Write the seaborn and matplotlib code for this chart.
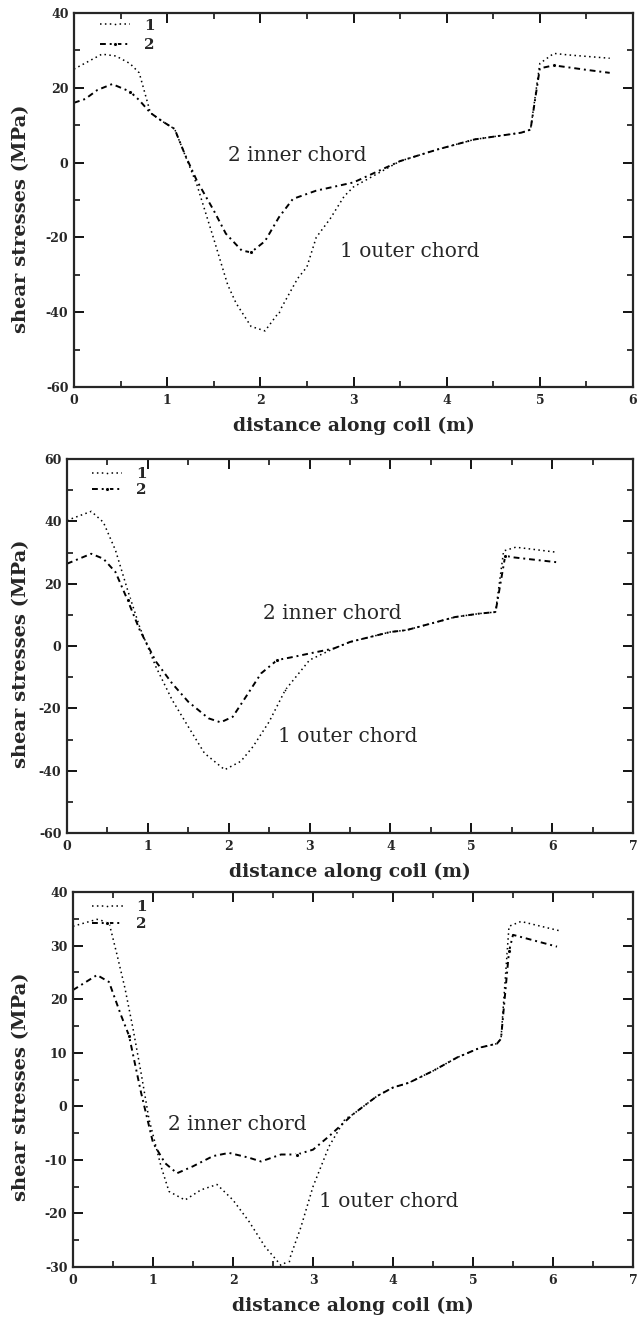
import numpy as np
import pandas as pd
import matplotlib
matplotlib.use("Agg")
import matplotlib.pyplot as plt
from matplotlib.ticker import MultipleLocator
import seaborn as sns

# ---------------- data ----------------
# Panel 1
p1_outer_x = [0, 0.15, 0.3, 0.45, 0.6, 0.7, 0.82, 0.95, 1.08, 1.16, 1.32, 1.5, 1.58, 1.65, 1.74,
              1.9, 2.05, 2.2, 2.4, 2.5, 2.6, 2.75, 2.9, 3.0, 3.5, 3.9, 4.3, 4.8, 4.9, 5.0, 5.15,
              5.3, 5.5, 5.75]
p1_outer_y = [25, 27, 29, 28.5, 26.5, 24, 13.3, 11, 9, 4, -6, -20.4, -27, -32.7, -37.6,
              -43.8, -45, -40, -31, -27.9, -20, -15, -9, -6.5, 0.4, 3.5, 6.2, 8, 8.8, 26.5, 29.2,
              28.8, 28.4, 27.9]
p1_inner_x = [0, 0.12, 0.25, 0.41, 0.6, 0.7, 0.82, 0.95, 1.08, 1.19, 1.32, 1.5, 1.63, 1.8, 1.9,
              2.05, 2.2, 2.35, 2.6, 3.0, 3.5, 3.9, 4.3, 4.8, 4.9, 5.0, 5.15, 5.5, 5.75]
p1_inner_y = [16, 17, 19.4, 21, 19, 16.7, 13.3, 11, 9, 2.2, -4.9, -12.8, -19, -23.5, -24,
              -21, -14.6, -9.7, -7.5, -5.3, 0.4, 3.5, 6.2, 8, 8.8, 25.2, 26, 24.8, 24]

# Panel 2
p2_outer_x = [0, 0.3, 0.45, 0.6, 0.75, 0.9, 1.1, 1.3, 1.5, 1.7, 1.95, 2.15, 2.3, 2.5, 2.7, 2.9,
              3.0, 3.3, 3.5, 4.0, 4.2, 4.5, 4.8, 5.1, 5.3, 5.4, 5.55, 6.05]
p2_outer_y = [40.3, 43.2, 39.7, 30.7, 17.9, 6, -6.7, -17.3, -25.9, -34.4, -39.7, -37, -32.3,
              -24.3, -14.1, -7.7, -4.5, -0.8, 1.3, 4.5, 5.1, 7.2, 9.3, 10.4, 10.9, 30.5, 31.7, 30.1]
p2_inner_x = [0, 0.3, 0.45, 0.6, 0.75, 0.9, 1.1, 1.3, 1.5, 1.75, 1.9, 2.05, 2.2, 2.4, 2.6, 2.8,
              3.0, 3.3, 3.5, 4.0, 4.2, 4.5, 4.8, 5.1, 5.3, 5.42, 5.5, 6.05]
p2_inner_y = [26.4, 29.6, 28, 23.7, 14.7, 5.1, -5, -12, -17.9, -23.2, -24.5, -22.7, -16.8, -8.8,
              -4.5, -3.5, -2.4, -0.8, 1.3, 4.5, 5.1, 7.2, 9.3, 10.4, 10.9, 29, 28.5, 26.9]

# Panel 3
p3_outer_x = [0, 0.3, 0.45, 0.55, 0.65, 0.75, 0.85, 0.95, 1.1, 1.2, 1.4, 1.6, 1.8, 2.0, 2.2, 2.4,
              2.6, 2.7, 2.85, 3.0, 3.2, 3.4, 3.5, 3.8, 4.0, 4.2, 4.5, 4.8, 5.1, 5.3, 5.35, 5.45,
              5.6, 6.1]
p3_outer_y = [33.6, 34.9, 34.3, 28.3, 22, 14.5, 6.3, -2.4, -11.2, -15.9, -17.5, -15.6, -14.6,
              -17.5, -21.5, -26.2, -29.7, -28.8, -22.5, -15, -7.5, -2.4, -1.5, 1.9, 3.5, 4.4, 6.6,
              9.1, 11, 11.7, 12.6, 33.6, 34.5, 32.7]
p3_inner_x = [0, 0.3, 0.45, 0.6, 0.7, 0.85, 1.0, 1.15, 1.3, 1.5, 1.75, 1.95, 2.2, 2.35, 2.6, 2.8,
              3.0, 3.2, 3.5, 3.8, 4.0, 4.2, 4.5, 4.8, 5.1, 5.3, 5.35, 5.45, 5.5, 6.05]
p3_inner_y = [21.7, 24.5, 23.2, 17, 13.2, 2.6, -6.8, -10.6, -12.5, -11.2, -9.3, -8.7, -9.6, -10.3,
              -9, -9, -8.1, -5.6, -1.5, 1.9, 3.5, 4.4, 6.6, 9.1, 11, 11.7, 12.6, 28.9, 32, 29.8]

legend_labels = ["1", "2"]
x_label = "distance along coil (m)"
y_label = "shear stresses (MPa)"
inner_text = "2 inner chord"
outer_text = "1 outer chord"

# ---------------- style ----------------
sns.set_style("ticks")
plt.rcParams["font.family"] = ["DejaVu Serif"]
plt.rcParams["axes.linewidth"] = 1.6
plt.rcParams["axes.unicode_minus"] = False

fig = plt.figure(figsize=(6.43, 13.19), dpi=100)
W, H = 643.0, 1319.0

panels = [
    dict(box=(74, 13, 633, 387), xlim=(0, 6), ylim=(-60, 40), ymaj=20, ymin=10,
         outer=(p1_outer_x, p1_outer_y), inner=(p1_inner_x, p1_inner_y),
         inner_pos=(1.65, 1.8), outer_pos=(2.85, -23.9), leg=(0.046, 0.985), lspace=0.35,
         ylabel_y=0.45),
    dict(box=(67, 459, 633, 833), xlim=(0, 7), ylim=(-60, 60), ymaj=20, ymin=10,
         outer=(p2_outer_x, p2_outer_y), inner=(p2_inner_x, p2_inner_y),
         inner_pos=(2.43, 10.4), outer_pos=(2.61, -29), leg=(0.044, 0.978), lspace=0.12,
         ylabel_y=0.48),
    dict(box=(73, 892, 633, 1267), xlim=(0, 7), ylim=(-30, 40), ymaj=10, ymin=5,
         outer=(p3_outer_x, p3_outer_y), inner=(p3_inner_x, p3_inner_y),
         inner_pos=(1.19, -3.4), outer_pos=(3.07, -17.8), leg=(0.034, 0.978), lspace=0.2,
         ylabel_y=0.48),
]

for p in panels:
    l, t, r, b = p["box"]
    ax = fig.add_axes([l / W, 1 - b / H, (r - l) / W, (b - t) / H])
    ox, oy = p["outer"]
    ix, iy = p["inner"]
    df_o = pd.DataFrame({"x": ox, "y": oy})
    df_i = pd.DataFrame({"x": ix, "y": iy})
    sns.lineplot(data=df_o, x="x", y="y", ax=ax, color="black", linestyle=":", linewidth=1.1,
                 estimator=None, sort=False, marker=".", markersize=4,
                 markevery=[len(ox) // 2], label=legend_labels[0])
    sns.lineplot(data=df_i, x="x", y="y", ax=ax, color="black", linewidth=1.4,
                 dashes=False, estimator=None, sort=False, marker=".", markersize=6,
                 markevery=[4, len(ix) // 2, len(ix) - 3], label=legend_labels[1])
    ax.lines[0].set_linestyle((0, (1, 2.2)))
    ax.lines[1].set_linestyle((0, (3, 2, 1, 2)))

    ax.set_xlim(*p["xlim"])
    ax.set_ylim(*p["ylim"])
    ax.xaxis.set_major_locator(MultipleLocator(1))
    ax.xaxis.set_minor_locator(MultipleLocator(0.5))
    ax.yaxis.set_major_locator(MultipleLocator(p["ymaj"]))
    ax.yaxis.set_minor_locator(MultipleLocator(p["ymin"]))
    ax.tick_params(which="both", direction="in", top=True, right=True, color="black")
    ax.tick_params(which="major", length=7, width=1.3)
    ax.tick_params(which="minor", length=4, width=1.1)
    ax.tick_params(axis="x", pad=5, labelsize=9)
    ax.tick_params(axis="y", pad=4, labelsize=9)
    for lab in ax.get_xticklabels() + ax.get_yticklabels():
        lab.set_fontweight("bold")

    ax.set_xlabel(x_label, fontsize=13.5, fontweight="bold", labelpad=7)
    ax.set_ylabel(y_label, fontsize=14, fontweight="bold")
    ax.yaxis.set_label_coords((30 - l) / (r - l), p["ylabel_y"])

    ax.text(p["inner_pos"][0], p["inner_pos"][1], inner_text, fontsize=14.5,
            ha="left", va="center")
    ax.text(p["outer_pos"][0], p["outer_pos"][1], outer_text, fontsize=14.5,
            ha="left", va="center")

    ax.legend(loc="upper left", bbox_to_anchor=p["leg"], frameon=False, borderpad=0,
              borderaxespad=0, handlelength=2.0, handletextpad=0.9,
              labelspacing=p["lspace"], prop={"family": "DejaVu Serif", "weight": "bold",
                                               "size": 11})

fig.savefig("out.png", dpi=100)
